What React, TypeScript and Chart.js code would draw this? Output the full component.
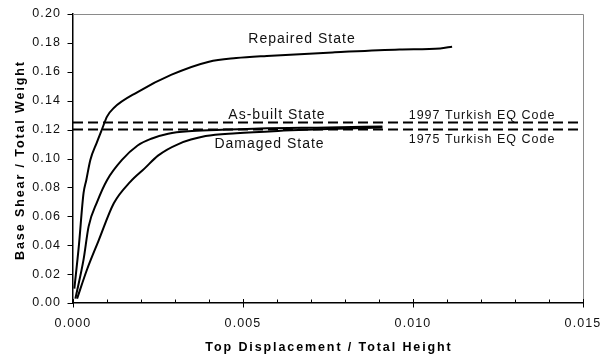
import React, { useEffect, useRef } from "react";
import { Chart, registerables } from "chart.js";

Chart.register(...registerables);

// Pushover curves: top displacement ratio vs. base shear ratio
const repairedDrift = [0.00004, 0.00017, 0.00031, 0.00039, 0.00051, 0.0007, 0.00085, 0.001, 0.0012, 0.0019, 0.0029, 0.004, 0.0048, 0.0057, 0.0077, 0.0096, 0.0108, 0.01115];
const repairedShear = [0.010, 0.039, 0.076, 0.085, 0.099, 0.111, 0.120, 0.129, 0.135, 0.146, 0.158, 0.167, 0.1695, 0.171, 0.1735, 0.1755, 0.1762, 0.1774];

const asBuiltDrift = [0.00007, 0.00031, 0.00046, 0.00071, 0.001, 0.00144, 0.0019, 0.0023, 0.0028, 0.0035, 0.0045, 0.0055, 0.0075, 0.0091];
const asBuiltShear = [0.003, 0.030, 0.053, 0.070, 0.085, 0.099, 0.109, 0.1137, 0.1172, 0.119, 0.120, 0.1208, 0.1215, 0.1222];

const damagedDrift = [0.00012, 0.00041, 0.00075, 0.0012, 0.00169, 0.0021, 0.0025, 0.0031, 0.0039, 0.0048, 0.0062, 0.0075, 0.0091];
const damagedShear = [0.003, 0.023, 0.043, 0.069, 0.084, 0.093, 0.102, 0.110, 0.1155, 0.1175, 0.1193, 0.1205, 0.1215];

// Code-required base shear levels
const code1997 = 0.125;
const code1975 = 0.12;

const xMin = 0;
const xMax = 0.015;
const xStep = 0.005;
const xMinorStep = 0.001;
const yMin = 0;
const yMax = 0.2;
const yStep = 0.02;

const xTitle = "Top Displacement / Total Height";
const yTitle = "Base Shear / Total Weight";

const FONT = "'Liberation Sans', Arial, Helvetica, sans-serif";

const toPoints = (xs: number[], ys: number[]) => xs.map((x, i) => ({ x, y: ys[i] }));

type Note = { text: string; x: number; y: number; size: number };

const notes: Note[] = [
  { text: "Repaired State", x: 0.006735, y: 0.1797, size: 14 },
  { text: "As-built State", x: 0.0060, y: 0.1273, size: 14 },
  { text: "Damaged State", x: 0.00578, y: 0.1070, size: 14 },
  { text: "1997 Turkish EQ Code", x: 0.01203, y: 0.1273, size: 12.5 },
  { text: "1975 Turkish EQ Code", x: 0.01203, y: 0.1104, size: 12.5 },
];

const decorPlugin = {
  id: "decor",
  beforeDraw(chart: any) {
    (chart.ctx as any).letterSpacing = "1.1px";
  },
  afterDraw(chart: any) {
    const ctx = chart.ctx as CanvasRenderingContext2D & { letterSpacing: string };
    const a = chart.chartArea;
    const xs = chart.scales.x;
    const ys = chart.scales.y;
    ctx.save();

    // grey frame on top and right
    ctx.strokeStyle = "#8a8a8a";
    ctx.lineWidth = 1;
    ctx.beginPath();
    ctx.moveTo(a.left, a.top + 0.5);
    ctx.lineTo(a.right + 0.5, a.top + 0.5);
    ctx.lineTo(a.right + 0.5, a.bottom);
    ctx.stroke();

    // x tick marks: majors cross the axis, minors point inward
    ctx.strokeStyle = "#000";
    ctx.lineWidth = 1;
    ctx.beginPath();
    const nMinor = Math.round((xMax - xMin) / xMinorStep);
    const per = Math.round(xStep / xMinorStep);
    for (let i = 0; i <= nMinor; i++) {
      const px = Math.round(xs.getPixelForValue(xMin + i * xMinorStep)) + 0.5;
      const major = i % per === 0;
      ctx.moveTo(px, a.bottom - (major ? 4 : 3.5));
      ctx.lineTo(px, a.bottom + (major ? 4.5 : 0));
    }
    // y tick marks, outward
    const nY = Math.round((yMax - yMin) / yStep);
    for (let i = 0; i <= nY; i++) {
      const py = Math.round(ys.getPixelForValue(yMin + i * yStep)) + 0.5;
      ctx.moveTo(a.left - 5.5, py);
      ctx.lineTo(a.left, py);
    }
    ctx.stroke();

    ctx.fillStyle = "#000";

    // axis titles
    ctx.letterSpacing = "1.9px";
    ctx.font = `bold 12.5px ${FONT}`;
    ctx.textAlign = "center";
    ctx.textBaseline = "alphabetic";
    ctx.fillText(xTitle, (a.left + a.right) / 2 + 1, 351);
    ctx.save();
    ctx.translate(24, (a.top + a.bottom) / 2 + 1.5);
    ctx.rotate(-Math.PI / 2);
    ctx.fillText(yTitle, 0, 0);
    ctx.restore();

    // curve and code labels
    ctx.fillStyle = "#111";
    ctx.letterSpacing = "1px";
    for (const n of notes) {
      ctx.font = `${n.size}px ${FONT}`;
      ctx.fillText(n.text, xs.getPixelForValue(n.x), ys.getPixelForValue(n.y));
    }

    ctx.restore();
    ctx.letterSpacing = "0px";
  },
};

export default function App() {
  const canvasRef = useRef<HTMLCanvasElement | null>(null);

  useEffect(() => {
    if (!canvasRef.current) return;
    const curve = (data: { x: number; y: number }[]) => ({
      data,
      borderColor: "#000",
      borderWidth: 2,
      pointRadius: 0,
      fill: false,
      cubicInterpolationMode: "monotone" as const,
    });
    const level = (v: number) => ({
      data: [{ x: xMin, y: v }, { x: xMax, y: v }],
      borderColor: "#000",
      borderWidth: 2,
      borderDash: [10, 5],
      pointRadius: 0,
      fill: false,
    });

    const chart = new Chart(canvasRef.current, {
      type: "line",
      data: {
        datasets: [
          curve(toPoints(repairedDrift, repairedShear)),
          curve(toPoints(asBuiltDrift, asBuiltShear)),
          curve(toPoints(damagedDrift, damagedShear)),
          level(code1997),
          level(code1975),
        ],
      },
      options: {
        responsive: false,
        animation: false,
        layout: { padding: { top: 14, right: 17, left: 0, bottom: 0 } },
        plugins: { legend: { display: false }, tooltip: { enabled: false } },
        scales: {
          x: {
            type: "linear",
            min: xMin,
            max: xMax,
            grid: { display: true, drawOnChartArea: false, drawTicks: true, tickLength: 13, color: "rgba(0,0,0,0)" },
            border: { display: true, color: "#000", width: 1.5 },
            ticks: {
              stepSize: xStep,
              padding: 0,
              color: "#111",
              font: { family: FONT, size: 12.5 },
              maxRotation: 0,
              callback: (v: any) => Number(v).toFixed(3),
            },
            afterFit: (s: any) => {
              s.height = 53;
            },
          },
          y: {
            type: "linear",
            min: yMin,
            max: yMax,
            grid: { display: true, drawOnChartArea: false, drawTicks: true, tickLength: 12, color: "rgba(0,0,0,0)" },
            border: { display: true, color: "#000", width: 1.5 },
            ticks: {
              stepSize: yStep,
              padding: 0,
              color: "#111",
              font: { family: FONT, size: 12.5 },
              callback: (v: any) => Number(v).toFixed(2),
            },
            afterFit: (s: any) => {
              s.width = 73;
            },
          },
        },
      },
      plugins: [decorPlugin],
    });
    return () => chart.destroy();
  }, []);

  return (
    <div style={{ position: "fixed", left: 0, top: 0, width: 600, height: 356, background: "#fff" }}>
      <canvas ref={canvasRef} width={600} height={356} />
    </div>
  );
}
